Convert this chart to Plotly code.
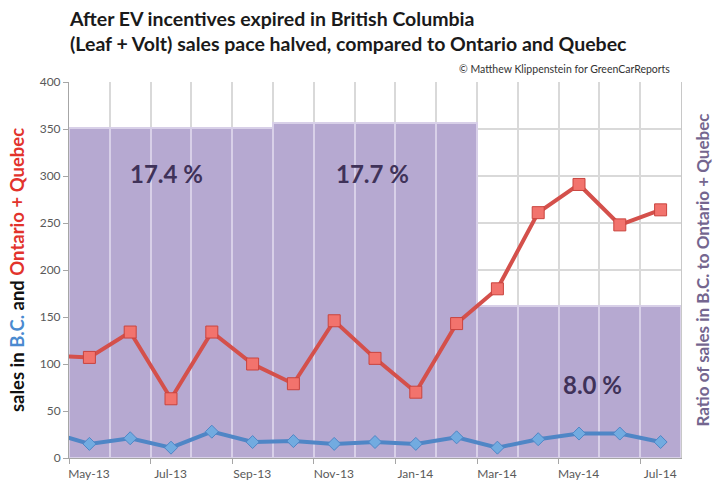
import plotly.graph_objects as go

# ---- data -------------------------------------------------------------
months = ["Apr-13", "May-13", "Jun-13", "Jul-13", "Aug-13", "Sep-13", "Oct-13", "Nov-13",
          "Dec-13", "Jan-14", "Feb-14", "Mar-14", "Apr-14", "May-14", "Jun-14", "Jul-14"]
on_qc_sales = [109, 107, 134, 63, 134, 100, 79, 146, 106, 70, 143, 180, 261, 291, 248, 264]
bc_sales = [28, 15, 21, 11, 28, 17, 18, 15, 17, 15, 22, 11, 20, 26, 26, 17]
bc_ratio = [None, 0.174, 0.174, 0.174, 0.174, 0.174, 0.177, 0.177, 0.177, 0.177, 0.177,
            0.080, 0.080, 0.080, 0.080, 0.080]
period_centers = ["Jul-13", "Dec-13", "May-14"]
period_ratios = [0.174, 0.177, 0.080]
tick_labels = ["May-13", "Jul-13", "Sep-13", "Nov-13", "Jan-14", "Mar-14", "May-14", "Jul-14"]

# ---- layout constants -------------------------------------------------
W, H = 715, 487
ML, MR, MT, MB = 69, 34, 82, 29
PW = W - ML - MR
PH = H - MT - MB
FONT = "Lato"
x_idx = list(range(len(months)))
month_px = PW / 15.0

fig = go.Figure()

# ratio columns (base axis, right side, hidden scale)
fig.add_trace(go.Bar(
    x=x_idx, y=bc_ratio, yaxis="y", width=1,
    marker=dict(color="#b6a9d1", line=dict(color="#d8d0e8", width=2)),
    hoverinfo="skip", showlegend=False,
))

# sales lines on overlay axis (left)
fig.add_trace(go.Scatter(
    x=x_idx, y=bc_sales, yaxis="y2", mode="lines+markers",
    line=dict(color="#4f86c6", width=4),
    marker=dict(symbol="diamond", size=10, color="#72abe0", line=dict(color="#4f86c6", width=1)),
    showlegend=False, cliponaxis=True,
))
fig.add_trace(go.Scatter(
    x=x_idx, y=on_qc_sales, yaxis="y2", mode="lines+markers",
    line=dict(color="#d4504b", width=4),
    marker=dict(symbol="square", size=12, color="#f2736d", line=dict(color="#c9443e", width=1)),
    showlegend=False, cliponaxis=True,
))

tickvals = [months.index(t) - 0.5 for t in tick_labels]

fig.update_layout(
    width=W, height=H,
    margin=dict(l=ML, r=MR, t=MT, b=MB, pad=0, autoexpand=False),
    paper_bgcolor="white", plot_bgcolor="white",
    font=dict(family=FONT, color="#595959", size=12),
    bargap=0,
    title=dict(
        text="After EV incentives expired in British Columbia<br>(Leaf + Volt) sales pace halved, compared to Ontario and Quebec",
        x=70 / W, xanchor="left", xref="container",
        y=1 - 26 / H, yanchor="top", yref="container",
        font=dict(family=FONT, size=19.5, color="#1a1a1a", weight="bold"),
        pad=dict(t=0, b=0, l=0, r=0),
    ),
    xaxis=dict(
        range=[0.5, 15.5], tickmode="array", tickvals=tickvals, ticktext=tick_labels,
        ticklabelshift=int(round(month_px / 2)), ticks="outside", ticklen=5, tickcolor="#a6a6a6",
        showline=True, linecolor="#a6a6a6", linewidth=1,
        showgrid=True, gridcolor="#d9d9d9", gridwidth=1.5,
        minor=dict(tickmode="linear", tick0=0.5, dtick=1, showgrid=True,
                   gridcolor="#d9d9d9", gridwidth=1.5, ticks=""),
        zeroline=False, fixedrange=True, automargin=False,
        tickfont=dict(size=12, color="#595959"),
    ),
    yaxis=dict(
        side="right", range=[0, 0.1985], showticklabels=False, ticks="",
        showgrid=False, zeroline=False, showline=True, linecolor="#c8c8c8",
        title=dict(text="Ratio of sales in B.C. to Ontario + Quebec", standoff=16,
                   font=dict(family=FONT, size=17, color="#74668f", weight="bold")),
        automargin=False,
    ),
    yaxis2=dict(
        overlaying="y", side="left", range=[0, 400], dtick=50,
        ticks="outside", ticklen=5, tickcolor="#a6a6a6",
        showline=True, linecolor="#a6a6a6", linewidth=1,
        showgrid=True, gridcolor="#d9d9d9", gridwidth=1.5, zeroline=False,
        tickfont=dict(size=12, color="#595959"),
        title=dict(
            text='sales in <span style="color:#4a8ad0">B.C.</span> and '
                 '<span style="color:#e2332c">Ontario + Quebec</span>',
            standoff=10, font=dict(family=FONT, size=18.5, color="#111111", weight="bold")),
        automargin=False,
    ),
)

# period ratio labels (placed in sales-axis units)
label_y = [303, 303, 78]
label_shift = [-5, -3, 13]
for c, r, yy, xs in zip(period_centers, period_ratios, label_y, label_shift):
    fig.add_annotation(
        x=months.index(c), y=yy, xref="x", yref="y2", xshift=xs,
        text=f"{r * 100:.1f} %", showarrow=False,
        font=dict(family=FONT, size=24, color="#3f3259", weight="bold"),
    )

fig.add_annotation(
    x=(672 - ML) / PW, y=(H - MB - 69) / PH, xref="paper", yref="paper",
    xanchor="right", yanchor="middle",
    text="© Matthew Klippenstein for GreenCarReports", showarrow=False,
    font=dict(family=FONT, size=10.5, color="#333333"),
)

fig.write_html("out.html")
